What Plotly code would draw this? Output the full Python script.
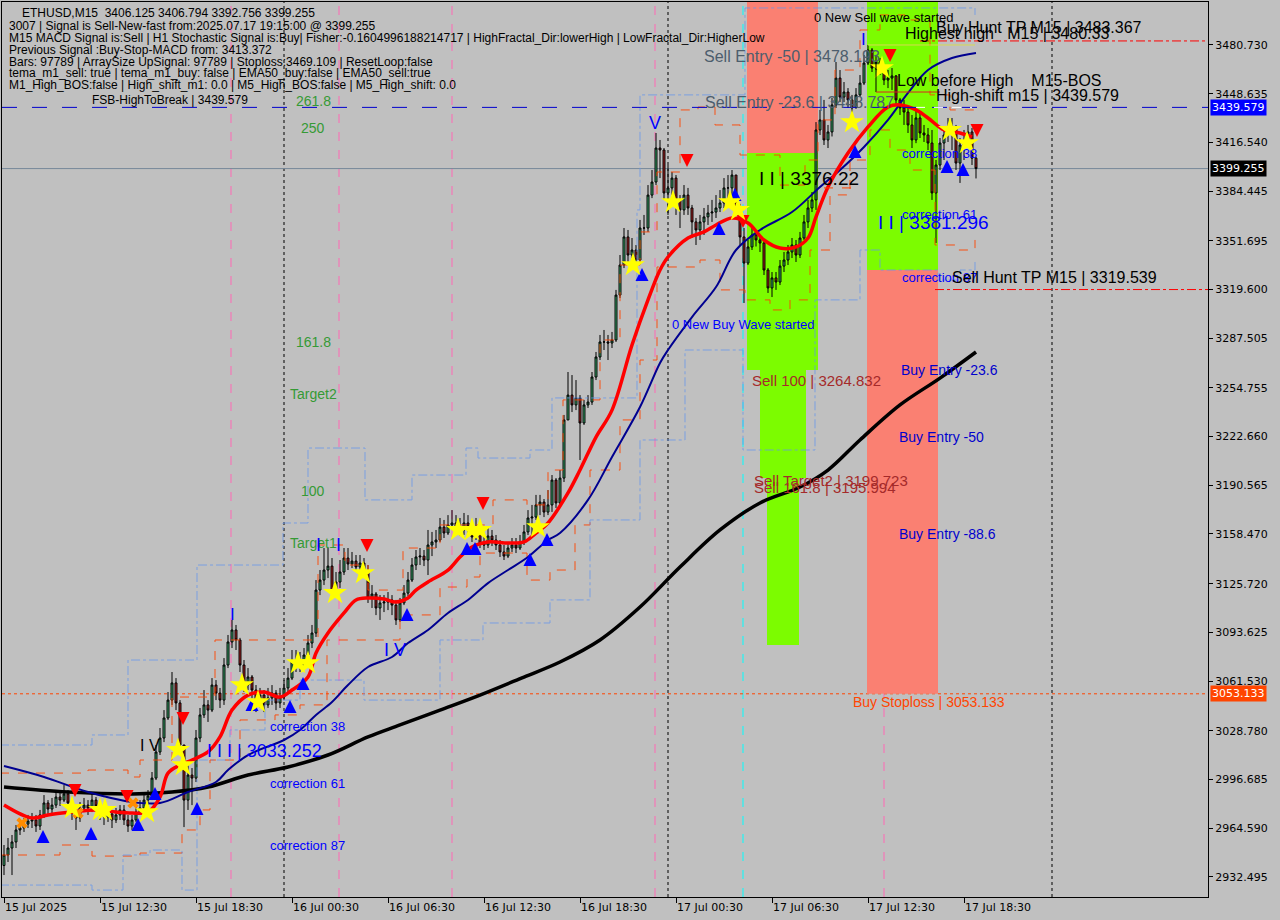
import plotly.graph_objects as go

# ---------------- data ----------------
tick_bars = [0, 24, 48, 72, 96, 120, 144, 168, 192, 216, 240]
tick_labels = ["15 Jul 2025", "15 Jul 12:30", "15 Jul 18:30", "16 Jul 00:30", "16 Jul 06:30",
               "16 Jul 12:30", "16 Jul 18:30", "17 Jul 00:30", "17 Jul 06:30", "17 Jul 12:30",
               "17 Jul 18:30"]
price_ticks = [3480.730, 3448.635, 3416.540, 3384.445, 3351.695, 3319.600, 3287.505, 3254.755,
               3222.660, 3190.565, 3158.470, 3125.720, 3093.625, 3061.530, 3028.780, 2996.685,
               2964.590, 2932.495]

first_open = 2940.0
close = [
    2946.9, 2951.5, 2955.5, 2963.4, 2964.7, 2967.3, 2969.3, 2970.0, 2966.0, 2973.3,
    2981.2, 2977.2, 2979.8, 2985.1, 2983.1, 2987.1, 2981.2, 2974.6, 2971.3, 2977.9,
    2979.8, 2977.9, 2983.1, 2979.2, 2974.6, 2972.0, 2974.0, 2970.0, 2973.3, 2976.6,
    2970.0, 2966.0, 2970.0, 2975.2, 2977.9, 2983.1, 2985.8, 2997.6, 3014.8, 3024.0,
    3037.2, 3049.0, 3060.3, 3047.1, 3019.4, 2983.1, 2999.6, 2997.6, 3024.0, 3039.2,
    3045.8, 3042.4, 3058.9, 3053.6, 3049.0, 3072.1, 3087.3, 3095.2, 3088.6, 3072.1,
    3058.9, 3064.2, 3055.6, 3049.0, 3052.3, 3045.8, 3050.4, 3053.6, 3047.1, 3051.0,
    3057.0, 3063.5, 3074.1, 3075.4, 3072.1, 3078.7, 3086.6, 3093.2, 3121.5, 3128.1,
    3134.7, 3137.3, 3120.2, 3126.8, 3133.4, 3142.6, 3138.7, 3140.6, 3136.7, 3139.3,
    3134.7, 3116.3, 3118.9, 3109.7, 3113.0, 3113.6, 3115.0, 3111.6, 3101.8, 3113.0,
    3119.5, 3128.1, 3138.0, 3143.3, 3143.9, 3141.3, 3151.2, 3153.2, 3154.5, 3163.0,
    3159.1, 3164.4, 3165.7, 3163.0, 3161.1, 3165.7, 3163.0, 3156.5, 3161.1, 3151.9,
    3151.2, 3157.1, 3154.5, 3151.2, 3146.6, 3143.9, 3149.2, 3151.2, 3149.2, 3153.2,
    3159.8, 3169.0, 3169.6, 3177.6, 3179.5, 3172.9, 3177.6, 3194.0, 3178.9, 3195.3,
    3233.6, 3250.0, 3243.5, 3248.1, 3231.6, 3243.5, 3245.4, 3261.9, 3275.1, 3285.0,
    3285.0, 3284.3, 3286.3, 3315.9, 3335.7, 3354.2, 3342.3, 3345.6, 3339.0, 3360.1,
    3360.1, 3381.8, 3390.4, 3412.8, 3411.5, 3383.2, 3386.5, 3393.0, 3378.6, 3372.0,
    3381.8, 3373.3, 3364.1, 3358.8, 3364.1, 3367.4, 3370.0, 3370.6, 3373.3, 3376.6,
    3386.5, 3386.5, 3395.0, 3374.0, 3354.2, 3337.0, 3347.6, 3355.5, 3352.2, 3350.2,
    3332.4, 3320.6, 3327.2, 3324.5, 3335.0, 3339.0, 3344.3, 3348.9, 3342.3, 3353.5,
    3364.1, 3373.3, 3378.6, 3424.7, 3431.3, 3418.1, 3423.4, 3441.2, 3458.9, 3446.4,
    3449.7, 3444.5, 3439.2, 3447.8, 3455.6, 3468.8, 3477.4, 3465.5, 3469.5, 3465.5,
    3457.6, 3458.9, 3460.3, 3444.5, 3439.2, 3436.5, 3428.0, 3418.1, 3432.6, 3422.7,
    3421.4, 3416.1, 3383.2, 3401.6, 3416.1, 3421.4, 3422.7, 3426.0, 3402.9, 3414.8,
    3418.1, 3423.4, 3406.125, 3399.255,
]
high = [
    2953.5, 2958.1, 2960.1, 2966.7, 2968.7, 2971.3, 2973.3, 2974.6, 2973.3, 2976.6,
    2986.4, 2983.1, 2984.5, 2989.7, 2988.4, 2993.0, 2989.7, 2983.1, 2977.9, 2981.8,
    2984.5, 2983.1, 2988.4, 2985.1, 2981.2, 2976.6, 2977.9, 2975.2, 2977.9, 2979.8,
    2979.8, 2973.3, 2973.3, 2979.2, 2983.1, 2986.4, 2989.7, 3001.6, 3019.4, 3030.6,
    3042.4, 3054.3, 3067.5, 3063.5, 3049.0, 3019.4, 3006.2, 3004.2, 3029.3, 3043.8,
    3055.6, 3049.0, 3063.5, 3062.2, 3057.0, 3076.7, 3091.9, 3101.8, 3098.5, 3090.0,
    3075.4, 3070.1, 3065.5, 3058.9, 3057.0, 3055.6, 3057.0, 3058.9, 3055.6, 3057.0,
    3062.2, 3070.1, 3082.0, 3082.0, 3080.7, 3083.3, 3091.9, 3098.5, 3128.1, 3134.7,
    3149.2, 3149.2, 3142.6, 3133.4, 3141.3, 3149.2, 3149.2, 3146.6, 3144.6, 3144.6,
    3142.6, 3138.0, 3124.8, 3120.2, 3118.2, 3118.2, 3120.2, 3118.2, 3115.0, 3116.3,
    3124.8, 3133.4, 3142.6, 3147.9, 3149.2, 3147.9, 3161.1, 3159.8, 3161.1, 3169.0,
    3167.7, 3170.9, 3174.2, 3170.9, 3169.0, 3172.3, 3170.9, 3166.4, 3169.0, 3162.4,
    3157.8, 3162.4, 3161.1, 3157.8, 3154.5, 3151.2, 3153.2, 3155.8, 3155.8, 3157.8,
    3164.4, 3174.2, 3177.6, 3184.2, 3184.2, 3181.5, 3187.4, 3197.3, 3195.3, 3200.6,
    3236.9, 3265.2, 3263.2, 3259.9, 3250.0, 3246.8, 3250.0, 3265.2, 3278.4, 3289.6,
    3292.9, 3289.6, 3291.6, 3319.3, 3342.3, 3360.1, 3358.8, 3353.5, 3348.9, 3365.4,
    3368.7, 3388.4, 3398.3, 3422.7, 3418.1, 3412.8, 3401.6, 3397.0, 3395.0, 3381.8,
    3388.4, 3386.5, 3375.3, 3366.7, 3368.7, 3373.3, 3375.3, 3378.6, 3381.8, 3385.1,
    3393.0, 3395.0, 3398.3, 3395.0, 3376.0, 3360.1, 3352.2, 3360.1, 3358.8, 3355.5,
    3352.0, 3333.7, 3331.1, 3331.1, 3339.0, 3344.3, 3348.9, 3353.5, 3352.2, 3357.5,
    3368.7, 3378.6, 3383.8, 3429.9, 3437.9, 3444.5, 3428.0, 3445.8, 3469.5, 3464.2,
    3456.3, 3452.3, 3447.8, 3452.3, 3460.9, 3474.1, 3480.7, 3478.7, 3474.1, 3472.1,
    3467.5, 3464.2, 3465.5, 3460.9, 3445.8, 3444.5, 3439.2, 3434.6, 3437.9, 3436.5,
    3428.0, 3426.0, 3424.7, 3404.9, 3419.4, 3426.0, 3432.6, 3432.6, 3428.0, 3419.4,
    3424.7, 3428.0, 3426.0, 3406.794,
]
low = [
    2933.7, 2942.3, 2933.7, 2951.5, 2960.1, 2962.1, 2964.7, 2964.7, 2962.1, 2963.4,
    2971.3, 2973.3, 2974.6, 2977.9, 2979.2, 2981.8, 2977.9, 2970.0, 2963.4, 2968.7,
    2975.2, 2973.3, 2975.2, 2975.2, 2970.0, 2966.7, 2968.7, 2964.7, 2968.0, 2970.0,
    2966.7, 2962.1, 2963.4, 2968.7, 2973.3, 2976.6, 2979.8, 2983.1, 2996.3, 3012.8,
    3021.3, 3035.9, 3045.8, 3042.4, 3014.8, 2965.3, 2976.6, 2979.8, 2995.0, 3021.3,
    3037.2, 3034.6, 3041.1, 3049.0, 3043.8, 3045.8, 3070.1, 3083.3, 3082.0, 3067.5,
    3054.3, 3055.6, 3050.4, 3041.1, 3043.8, 3041.1, 3043.8, 3045.8, 3042.4, 3043.8,
    3049.0, 3054.3, 3062.2, 3067.5, 3067.5, 3070.1, 3076.7, 3083.3, 3090.6, 3118.2,
    3124.8, 3129.4, 3116.3, 3118.9, 3122.9, 3131.4, 3134.7, 3136.0, 3133.4, 3134.7,
    3131.4, 3113.0, 3109.7, 3105.0, 3101.8, 3107.0, 3108.3, 3105.0, 3098.5, 3100.5,
    3111.6, 3117.6, 3126.8, 3134.7, 3138.0, 3137.3, 3131.4, 3143.9, 3149.2, 3153.2,
    3155.8, 3157.8, 3161.1, 3159.1, 3157.1, 3157.8, 3159.1, 3153.2, 3154.5, 3149.2,
    3147.9, 3149.2, 3150.5, 3147.9, 3143.3, 3141.3, 3142.6, 3146.6, 3145.9, 3147.9,
    3151.2, 3157.8, 3157.8, 3167.7, 3170.9, 3169.6, 3170.9, 3173.0, 3175.6, 3177.6,
    3192.7, 3233.6, 3238.8, 3240.1, 3207.2, 3230.3, 3241.5, 3243.5, 3259.9, 3273.1,
    3279.7, 3273.1, 3281.0, 3285.0, 3314.0, 3333.7, 3337.7, 3340.3, 3333.7, 3337.7,
    3355.5, 3357.5, 3379.8, 3388.4, 3393.0, 3378.6, 3368.7, 3381.8, 3368.7, 3360.1,
    3368.7, 3368.7, 3353.5, 3348.9, 3352.2, 3355.5, 3362.1, 3364.1, 3366.7, 3370.6,
    3373.3, 3378.6, 3378.6, 3368.7, 3348.9, 3310.7, 3335.7, 3345.6, 3347.9, 3344.3,
    3329.1, 3317.3, 3314.6, 3319.3, 3322.5, 3331.1, 3335.7, 3340.3, 3337.7, 3340.3,
    3352.2, 3360.1, 3370.6, 3372.0, 3421.4, 3414.8, 3412.8, 3420.4, 3439.2, 3443.1,
    3443.1, 3439.2, 3432.6, 3439.2, 3446.4, 3454.3, 3467.5, 3462.9, 3464.2, 3460.9,
    3454.3, 3452.3, 3451.0, 3441.2, 3434.6, 3428.0, 3422.7, 3412.8, 3416.0, 3419.4,
    3416.8, 3411.5, 3378.6, 3350.2, 3398.3, 3404.9, 3416.8, 3411.5, 3398.3, 3389.8,
    3404.9, 3414.8, 3401.6, 3392.756,
]
opens = [first_open] + close[:-1]
bars = list(range(len(close)))

# indicator lines
red_bars = [0, 7, 11, 17, 23, 28, 32, 36, 39, 41, 44, 47, 51, 54, 57, 61, 65, 69, 72, 76, 78, 81,
            85, 88, 91, 95, 98, 101, 103, 106, 111, 114, 117, 121, 126, 130, 133, 136, 141, 144,
            148, 152, 157, 161, 164, 166, 171, 175, 178, 182, 186, 190, 194, 198, 201, 203, 206,
            211, 216, 221, 224, 228, 231, 235, 239, 242]
red_vals = [2979.9, 2971.3, 2973.3, 2975.2, 2976.6, 2975.2, 2974.6, 2975.2, 2985.1, 3000.9, 3006.2,
            3009.5, 3014.8, 3024.7, 3042.4, 3052.3, 3054.3, 3051.0, 3055.6, 3064.2, 3080.0, 3093.2,
            3106.4, 3115.0, 3116.3, 3115.6, 3113.6, 3116.3, 3121.5, 3126.8, 3134.7, 3143.3, 3149.9,
            3153.2, 3152.5, 3153.2, 3159.1, 3165.7, 3185.5, 3200.6, 3222.3, 3240.1, 3283.0, 3312.7,
            3332.4, 3341.0, 3353.5, 3357.5, 3362.1, 3366.7, 3363.4, 3352.2, 3346.9, 3347.6, 3353.5,
            3367.4, 3387.1, 3409.5, 3426.7, 3439.8, 3441.2, 3437.9, 3432.6, 3424.7, 3422.7, 3420.1]
navy_bars = [0, 10, 21, 32, 39, 46, 53, 56, 61, 70, 74, 78, 82, 86, 91, 97, 101, 106, 111, 116,
             121, 126, 131, 136, 139, 146, 152, 159, 164, 166, 172, 178, 183, 189, 197, 204, 209,
             215, 221, 226, 231, 237, 243]
navy_vals = [3005.5, 2998.3, 2988.4, 2981.8, 2981.2, 2988.4, 2995.0, 3002.9, 3012.8, 3022.7,
             3029.3, 3039.2, 3047.7, 3058.9, 3070.8, 3077.4, 3086.6, 3095.2, 3106.4, 3115.0,
             3126.1, 3134.7, 3143.3, 3154.5, 3159.1, 3180.9, 3209.2, 3242.1, 3271.1, 3279.7,
             3301.4, 3321.2, 3345.6, 3358.8, 3370.6, 3387.1, 3398.3, 3413.5, 3431.3, 3449.1,
             3464.2, 3472.1, 3475.4]
black_bars = [0, 16, 32, 42, 51, 61, 71, 81, 91, 99, 109, 119, 130, 139, 149, 159, 169, 179, 189,
              199, 206, 214, 224, 234, 243]
black_vals = [2991.7, 2988.4, 2987.1, 2988.4, 2991.7, 2999.6, 3004.9, 3012.8, 3024.7, 3032.6,
              3042.4, 3052.3, 3064.2, 3074.1, 3088.6, 3110.3, 3136.7, 3161.1, 3178.9, 3189.4,
              3200.6, 3220.4, 3243.5, 3261.2, 3278.4]

orange_hi_bars = [-1, 21, 31, 34, 42, 48, 52.75, 74, 78.5, 85.25, 91, 99.75, 109, 122.25, 130.75,
                  136, 139.75, 149, 154, 159, 163.25, 169, 173.5, 177.75, 184, 189, 194, 200.25,
                  203.5, 207.75, 214, 219, 225.25, 231.5, 236.5, 242.75]
orange_hi_vals = [3000.9, 3002.9, 2998.3, 3009.5, 3051.0, 3051.0, 3088.6, 3088.6, 3151.2, 3138.0,
                  3121.5, 3149.2, 3164.4, 3180.9, 3177.6, 3200.6, 3246.8, 3286.3, 3335.7, 3357.5,
                  3397.0, 3437.9, 3439.8, 3428.0, 3408.2, 3408.2, 3388.4, 3404.9, 3431.3, 3464.2,
                  3490.6, 3500.5, 3497.2, 3447.8, 3437.9, 3434.6]
orange_lo_bars = [-1, 14, 22, 29.75, 34, 44.5, 49, 51.5, 59, 67.75, 74, 80.75, 89.75, 99, 103.25,
                  109, 115.75, 119, 130.75, 136.5, 142.75, 146.5, 154, 159, 163.25, 169.75, 174,
                  179, 185.25, 191.5, 196.5, 201.5, 206.5, 211.5, 216.5, 221.5, 226.5, 232.75,
                  237.75, 242.75]
orange_lo_vals = [2946.9, 2953.5, 2946.2, 2946.2, 2948.2, 2963.4, 2976.6, 3009.5, 3035.9, 3039.2,
                  3045.8, 3088.6, 3088.6, 3105.1, 3105.1, 3123.5, 3130.1, 3145.9, 3128.1, 3134.7,
                  3164.4, 3200.6, 3233.6, 3273.1, 3334.4, 3334.4, 3339.0, 3319.3, 3312.7, 3306.1,
                  3312.7, 3345.6, 3381.9, 3404.9, 3424.7, 3411.5, 3398.3, 3348.9, 3345.6, 3352.2]
blue_hi_bars = [-1, 22, 31, 48.25, 69.75, 76, 86, 90.25, 102, 115.5, 118.5, 131.5, 137, 158.25,
                159, 185.25, 219, 242.75]
blue_hi_vals = [3019.4, 3026.0, 3075.4, 3138.0, 3165.7, 3215.1, 3215.1, 3180.9, 3197.3, 3215.1,
                3208.5, 3213.8, 3248.1, 3372.0, 3447.8, 3505.1, 3505.1, 3500.5]
blue_lo_bars = [-1, 17, 22, 29.75, 36.5, 44.5, 48.25, 56.5, 65.25, 74, 90, 100, 109, 119.75,
                129.75, 136.5, 146.5, 159, 170.25, 178.25, 184.75, 199, 202.75, 214, 219, 233.5,
                239, 242.75]
blue_lo_vals = [2927.1, 2927.1, 2923.8, 2946.9, 2950.2, 2923.8, 3009.5, 3029.3, 3049.0, 3062.2,
                3049.0, 3049.0, 3088.6, 3099.8, 3099.8, 3115.0, 3167.7, 3220.4, 3279.7, 3279.7,
                3213.8, 3213.8, 3312.7, 3345.6, 3332.4, 3325.8, 3332.4, 3337.7]

# signal markers
star_bars = [17, 24, 25.25, 35.75, 43.5, 44.75, 59.5, 63.5, 73.5, 76, 82.75, 89.75, 113.5, 117,
             119, 133.5, 157.25, 167.25, 181.5, 183.5, 212, 219.5, 236.5, 240.75]
star_vals = [2977.9, 2976.6, 2976.6, 2975.2, 3016.1, 3006.2, 3058.9, 3047.7, 3073.4, 3073.4,
             3119.6, 3132.7, 3161.1, 3161.1, 3161.1, 3163.0, 3335.7, 3377.2, 3377.2, 3372.0,
             3429.9, 3465.5, 3424.7, 3416.1]
up_bars = [9.75, 21.75, 33.5, 37.75, 48.25, 62, 71.5, 74.75, 100.75, 115.75, 117.75, 131.5,
           135.75, 159.5, 178.75, 182.75, 212.75, 235.75, 239.75]
up_vals = [2963.4, 2965.3, 2971.3, 2991.7, 2981.8, 3050.4, 3049.0, 3064.2, 3109.7, 3153.2,
           3153.2, 3145.9, 3159.1, 3333.7, 3364.0, 3386.5, 3414.8, 3404.9, 3402.9]
down_bars = [17.75, 30.75, 44.75, 90.75, 119.75, 170.75, 184.75, 221.5, 243.25]
down_vals = [2985.1, 2981.2, 3032.6, 3146.6, 3174.3, 3400.3, 3360.1, 3469.5, 3420.1]
cross_bars = [4.5, 18.5, 32.25]
cross_vals = [2968.0, 2974.6, 2981.2]

# levels
high_shift = 3439.579
bid = 3399.255
buy_stoploss = 3053.133
buy_hunt_tp = 3483.367
sell_hunt_tp = 3319.539

header_lines = [
    "ETHUSD,M15  3406.125 3406.794 3392.756 3399.255",
    "3007 | Signal is Sell-New-fast from:2025.07.17 19:15:00 @ 3399.255",
    "M15 MACD Signal is:Sell | H1 Stochastic Signal is:Buy| Fisher:-0.1604996188214717 | "
    "HighFractal_Dir:lowerHigh | LowFractal_Dir:HigherLow",
    "Previous Signal :Buy-Stop-MACD from: 3413.372",
    "Bars: 97789 | ArraySize UpSignal: 97789 | Stoploss:3469.109 | ResetLoop:false",
    "tema_m1_sell: true | tema_m1_buy: false | EMA50_buy:false | EMA50_sell:true",
    "M1_High_BOS:false | High_shift_m1: 0.0 | M5_High_BOS:false | M5_High_shift: 0.0",
]

# ---------------- figure ----------------
X0, X1 = -0.5, 301.0
Y0, Y1 = 2919.23, 3509.03
FONT = "Liberation Sans, Arial, sans-serif"
GREEN = "#359A35"
SLATE = "#4D5D6D"
BROWN = "#A52A2A"
BLUE = "#0000FF"
DBLUE = "#0000CD"

fig = go.Figure()

fig.add_trace(go.Candlestick(
    x=bars, open=opens, high=high, low=low, close=close,
    increasing=dict(line=dict(color="black", width=1), fillcolor="#3CB371"),
    decreasing=dict(line=dict(color="black", width=1), fillcolor="#B22222"),
    whiskerwidth=0, showlegend=False, hoverinfo="skip"))

for bx, by, col, dash, op in [(orange_hi_bars, orange_hi_vals, "#FF4500", "dash", 0.9),
                              (orange_lo_bars, orange_lo_vals, "#FF4500", "dash", 0.9),
                              (blue_hi_bars, blue_hi_vals, "#6495ED", "dashdot", 0.75),
                              (blue_lo_bars, blue_lo_vals, "#6495ED", "dashdot", 0.75)]:
    fig.add_trace(go.Scatter(x=bx, y=by, mode="lines", line=dict(color=col, width=1, dash=dash, shape="hv"),
                             opacity=op, showlegend=False, hoverinfo="skip"))

fig.add_trace(go.Scatter(x=black_bars, y=black_vals, mode="lines",
                         line=dict(color="black", width=3.5, shape="spline"), showlegend=False, hoverinfo="skip"))
fig.add_trace(go.Scatter(x=navy_bars, y=navy_vals, mode="lines",
                         line=dict(color="#000090", width=2, shape="spline"), showlegend=False, hoverinfo="skip"))
fig.add_trace(go.Scatter(x=red_bars, y=red_vals, mode="lines",
                         line=dict(color="#FF0000", width=3.5, shape="spline"), showlegend=False, hoverinfo="skip"))

fig.add_trace(go.Scatter(x=cross_bars, y=cross_vals, mode="markers",
                         marker=dict(symbol="x", size=10, color="#FF8C00", line=dict(width=0)),
                         showlegend=False, hoverinfo="skip"))
fig.add_trace(go.Scatter(x=up_bars, y=up_vals, mode="markers",
                         marker=dict(symbol="arrow-up", size=13, color="#0000FF", line=dict(width=0)),
                         showlegend=False, hoverinfo="skip"))
fig.add_trace(go.Scatter(x=down_bars, y=down_vals, mode="markers",
                         marker=dict(symbol="arrow-down", size=13, color="#FF0000", line=dict(width=0)),
                         showlegend=False, hoverinfo="skip"))
fig.add_trace(go.Scatter(x=star_bars, y=star_vals, mode="markers",
                         marker=dict(symbol="star", size=18, color="#FFFF00", line=dict(width=0)),
                         showlegend=False, hoverinfo="skip"))

shapes = []
for xa, xb, ya, yb, col in [(185.75, 203.5, 3409.5, 3520, "#FA8072"),
                            (185.75, 203.5, 3266.5, 3409.5, "#7CFC00"),
                            (189.0, 200.5, 3195.4, 3266.5, "#7CFC00"),
                            (190.75, 198.75, 3085.3, 3195.4, "#7CFC00"),
                            (215.75, 233.5, 3332.4, 3520, "#7CFC00"),
                            (215.75, 233.5, buy_stoploss, 3332.4, "#FA8072")]:
    shapes.append(dict(type="rect", xref="x", yref="y", x0=xa, x1=xb, y0=ya, y1=yb,
                       fillcolor=col, line=dict(width=0), layer="below"))
for b in [70, 166, 262]:
    shapes.append(dict(type="line", xref="x", yref="paper", x0=b, x1=b, y0=0, y1=1,
                       line=dict(color="black", width=1, dash="dot"), layer="below"))
for b in [56.75, 83.75, 112, 162.75, 220]:
    shapes.append(dict(type="line", xref="x", yref="paper", x0=b, x1=b, y0=0, y1=1,
                       line=dict(color="#FF69B4", width=1, dash="dash"), layer="below"))
shapes.append(dict(type="line", xref="x", yref="paper", x0=184.75, x1=184.75, y0=0, y1=1,
                   line=dict(color="#00FFFF", width=1, dash="dash"), layer="below"))
shapes.append(dict(type="line", xref="paper", yref="y", x0=0, x1=1, y0=bid, y1=bid,
                   line=dict(color="#778899", width=1), layer="below"))
shapes.append(dict(type="line", xref="paper", yref="y", x0=0, x1=1, y0=high_shift, y1=high_shift,
                   line=dict(color="#0000CD", width=1, dash="longdash"), layer="above"))
shapes.append(dict(type="line", xref="x", yref="y", x0=228, x1=242, y0=high_shift, y1=high_shift,
                   line=dict(color="white", width=1, dash="dash"), layer="above"))
shapes.append(dict(type="line", xref="paper", yref="y", x0=0, x1=1, y0=buy_stoploss, y1=buy_stoploss,
                   line=dict(color="#FF4500", width=1, dash="dot"), layer="below"))
shapes.append(dict(type="line", xref="x", yref="y", x0=229, x1=X1, y0=buy_hunt_tp, y1=buy_hunt_tp,
                   line=dict(color="#FF0000", width=1, dash="dashdot"), layer="above"))
shapes.append(dict(type="line", xref="x", yref="y", x0=232.75, x1=X1, y0=sell_hunt_tp, y1=sell_hunt_tp,
                   line=dict(color="#FF0000", width=1, dash="dashdot"), layer="above"))
shapes.append(dict(type="line", xref="x", yref="y", x0=216, x1=242.75, y0=3480.7, y1=3480.7,
                   line=dict(color="#D8D850", width=1), layer="above"))
shapes.append(dict(type="line", xref="x", yref="y", x0=218, x1=218, y0=3449.7, y1=3469.5,
                   line=dict(color="black", width=1), layer="above"))
shapes.append(dict(type="line", xref="x", yref="y", x0=218, x1=234, y0=3449.7, y1=3449.7,
                   line=dict(color="#DD2222", width=1), layer="above"))
shapes.append(dict(type="line", xref="x", yref="y", x0=205, x1=213.5, y0=3386.5, y1=3386.5,
                   line=dict(color="#FF4500", width=1, dash="dash"), layer="above"))

annotations = []
hy = [0.988, 0.9735, 0.9601, 0.9464, 0.9333, 0.9203, 0.9069]
for k, (t, yy) in enumerate(zip(header_lines, hy)):
    annotations.append(dict(text=t, xref="paper", yref="paper", x=0.0149 if k == 0 else 0.0041, y=yy,
                            xanchor="left", yanchor="middle", showarrow=False,
                            font=dict(family=FONT, size=12, color="black")))

labels = [
    ("FSB-HighToBreak | 3439.579", 21.5, 3444.5, "black", 12, "left"),
    ("261.8", 77.25, 3443.8, GREEN, 14, "center"),
    ("250", 77.25, 3426.0, GREEN, 14, "center"),
    ("161.8", 77.25, 3285.0, GREEN, 14, "center"),
    ("Target2", 77.25, 3250.7, GREEN, 14, "center"),
    ("100", 77.25, 3186.8, GREEN, 14, "center"),
    ("Target1", 77.25, 3152.5, GREEN, 14, "center"),
    ("Sell Entry -50 | 3478.193", 174.5, 3472.8, SLATE, 16, "left"),
    ("Sell Entry -23.6 | 3448.787", 174.75, 3443.1, SLATE, 16, "left"),
    ("0 New Sell wave started", 202, 3499.1, "black", 13, "left"),
    ("Buy Hunt TP M15 | 3483.367", 232.5, 3491.9, "black", 16, "left"),
    ("Highest high\u00a0\u00a0\u00a0M15 | 3480.33", 224.75, 3488.6, "black", 16, "left"),
    ("Low before High\u00a0\u00a0\u00a0\u00a0M15-BOS", 222.75, 3457.0, "black", 16, "left"),
    ("High-shift m15 | 3439.579", 232.5, 3447.1, "black", 16, "left"),
    ("I I | 3376.22", 188.25, 3392.4, "black", 19, "left"),
    ("I I | 3381.296", 218, 3364.0, BLUE, 19, "left"),
    ("correction 38", 224, 3408.9, BLUE, 13, "left"),
    ("correction 61", 224, 3369.3, BLUE, 13, "left"),
    ("correction 87", 224, 3327.2, BLUE, 13, "left"),
    ("Sell Hunt TP M15 | 3319.539", 236.5, 3327.8, "black", 16, "left"),
    ("0 New Buy Wave started", 166.5, 3296.8, BLUE, 13, "left"),
    ("Sell 100 | 3264.832", 186.5, 3259.3, BROWN, 15, "left"),
    ("Buy Entry -23.6", 223.75, 3266.5, DBLUE, 14, "left"),
    ("Buy Entry -50", 223.25, 3222.4, DBLUE, 14, "left"),
    ("Sell Target2 | 3199.723", 187, 3194.0, BROWN, 15, "left"),
    ("Sell 161.8 | 3195.994", 187, 3189.4, BROWN, 15, "left"),
    ("Buy Entry -88.6", 223.25, 3158.4, DBLUE, 14, "left"),
    ("Buy Stoploss | 3053.133", 211.75, 3047.7, "#FF4500", 14, "left"),
    ("correction 38", 66, 3031.9, BLUE, 13, "left"),
    ("correction 61", 66, 2994.3, BLUE, 13, "left"),
    ("correction 87", 66, 2953.5, BLUE, 13, "left"),
    ("I I I | 3033.252", 50.25, 3015.4, BLUE, 18, "left"),
    ("V", 162.75, 3429.3, BLUE, 18, "center"),
    ("I", 57, 3105.1, BLUE, 17, "center"),
    ("I V", 97.75, 3082.0, BLUE, 18, "center"),
    ("I", 78.5, 3151.2, BLUE, 18, "center"),
    ("I", 83.5, 3151.2, BLUE, 18, "center"),
    ("I", 214.75, 3484.0, BLUE, 17, "center"),
    ("I V", 36.5, 3019.4, "black", 16, "center"),
]
for t, bx, py, col, sz, anc in labels:
    annotations.append(dict(text=t, xref="x", yref="y", x=bx, y=py, xanchor=anc, yanchor="middle",
                            showarrow=False, font=dict(family=FONT, size=sz, color=col)))

for val, bg in [(high_shift, "#0000FF"), (bid, "#000000"), (buy_stoploss, "#FF4500")]:
    annotations.append(dict(text=f"{val:.3f}", xref="paper", yref="y", x=1.0017, y=val,
                            xanchor="left", yanchor="middle", showarrow=False, bgcolor=bg,
                            borderpad=1, font=dict(family="DejaVu Sans", size=11, color="white")))

fig.update_layout(
    width=1280, height=920,
    margin=dict(l=2, r=72, t=2, b=23),
    paper_bgcolor="#C0C0C0", plot_bgcolor="#C0C0C0",
    showlegend=False, shapes=shapes, annotations=annotations,
    xaxis=dict(range=[X0, X1], showgrid=False, zeroline=False, rangeslider=dict(visible=False),
               tickmode="array", tickvals=tick_bars, ticktext=tick_labels,
               ticks="outside", ticklen=5, tickcolor="black", ticklabelposition="outside right",
               showline=True, linecolor="black", linewidth=1, mirror=True,
               tickfont=dict(family="DejaVu Sans", size=11, color="black")),
    yaxis=dict(range=[Y0, Y1], side="right", showgrid=False, zeroline=False,
               tickmode="array", tickvals=price_ticks, ticktext=[f"{v:.3f}" for v in price_ticks],
               ticks="outside", ticklen=4, tickcolor="black",
               showline=True, linecolor="black", linewidth=1, mirror=True,
               tickfont=dict(family="DejaVu Sans", size=11, color="black")),
)

fig.write_html("out.html", config={"displayModeBar": False},
               post_script="document.body.style.margin='0';document.body.style.background='#C0C0C0';")
